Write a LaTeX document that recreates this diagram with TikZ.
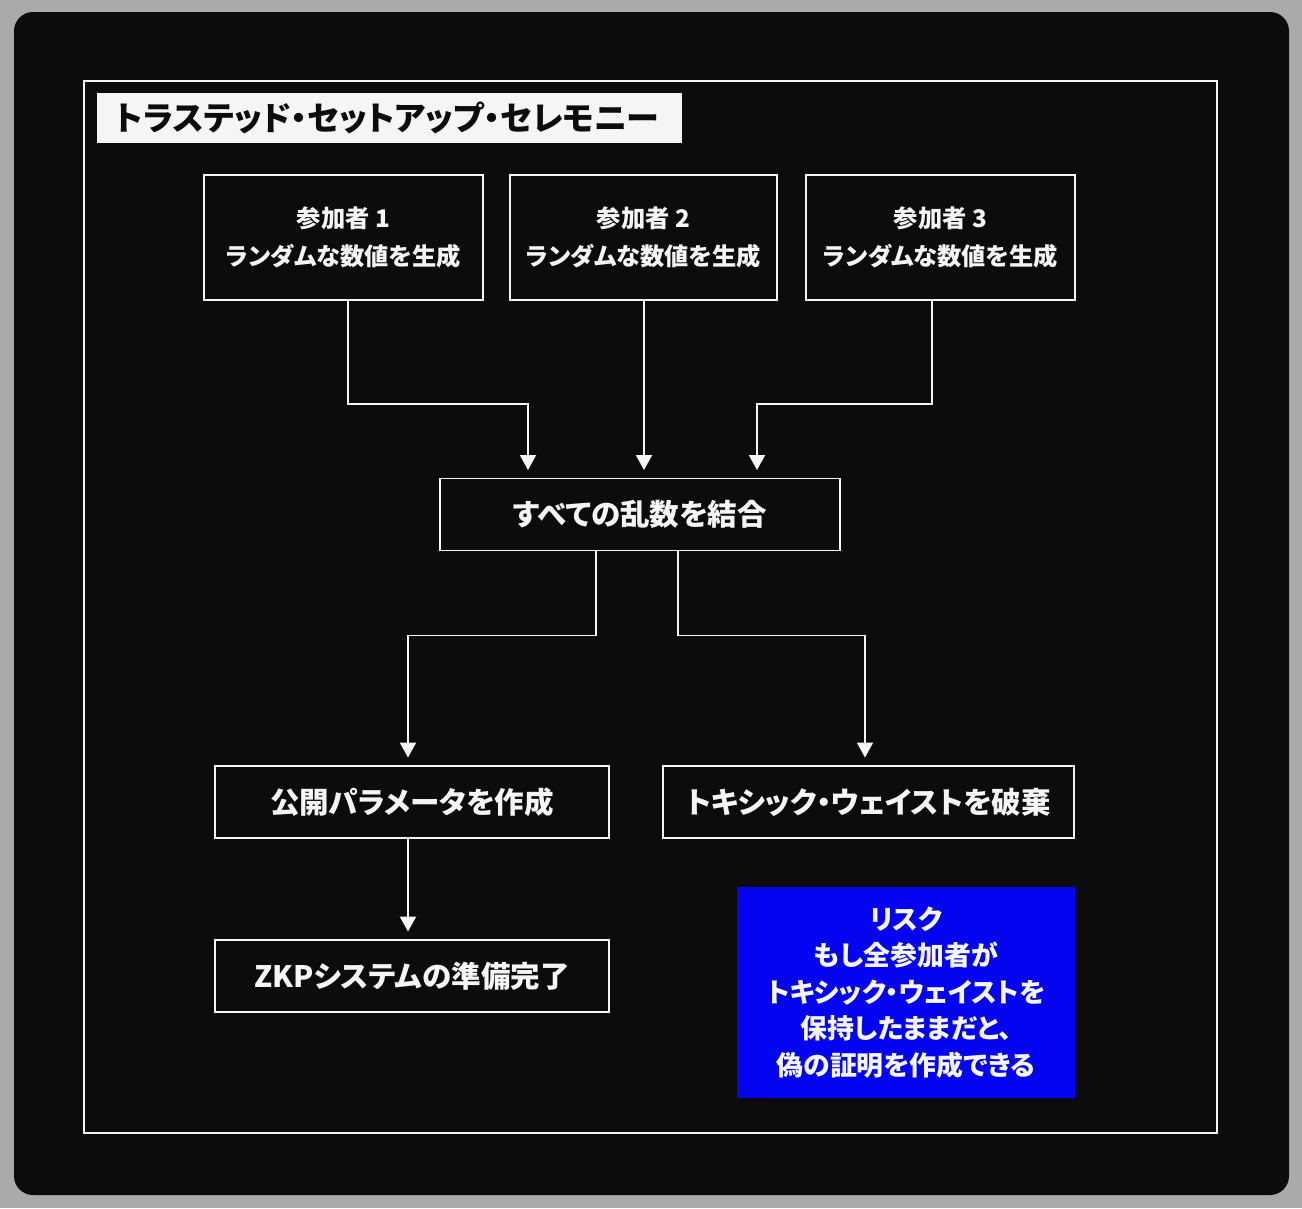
\documentclass[tikz,border=0pt]{standalone}
\usepackage{fontspec}
\setmainfont{Noto Sans CJK JP}[RawFeature=+palt]
\usepackage{tikz}
\usetikzlibrary{arrows.meta, positioning, calc}
\definecolor{cPage}{RGB}{170,170,170}
\definecolor{cPanel}{RGB}{12,12,12}
\definecolor{cLine}{RGB}{245,245,245}
\definecolor{cRisk}{RGB}{4,4,240}
\tikzset{
  %% process boxes
  pbox/.style={rectangle, draw=cLine, line width=1.1pt, text=cLine,
               font=\bfseries\fontsize{16.8}{20}\selectfont, align=center,
               inner sep=0pt, minimum height=1.44cm},
  partbox/.style={pbox, minimum height=2.5cm,
                  font=\bfseries\fontsize{13.8}{21.5}\selectfont},
  %% title tag
  tagbox/.style={rectangle, fill=cLine, text=cPanel, anchor=west,
                 font=\bfseries\fontsize{18.8}{20}\selectfont,
                 minimum width=11.7cm, minimum height=1.0cm,
                 inner xsep=0.36cm, text width=10.98cm, align=left},
  %% risk note
  riskbox/.style={rectangle, fill=cRisk, text=cLine, align=center,
                  font=\bfseries\fontsize{15.3}{20.7}\selectfont,
                  minimum width=6.76cm, minimum height=4.22cm, inner sep=0pt},
  %% edges
  arr/.style={draw=cLine, line width=1.1pt,
              -{Triangle[width=3.2mm, length=3mm]}, shorten >=0.15cm},
}
\begin{document}
\begin{tikzpicture}

%% =============================================================
%%  BACKGROUND + FRAME
%% =============================================================
\fill[cPage] (0, 0) rectangle (26.04, -24.16);
\useasboundingbox (0, 0) rectangle (26.04, -24.16);
\fill[cPanel, rounded corners=0.38cm] (0.28, -0.24) rectangle (25.78, -23.9);
\draw[cLine, line width=1.1pt] (1.68, -1.62) rectangle (24.34, -22.66);

%% -- title --
\node[tagbox] (Title) at (1.94, -2.36) {トラステッド・セットアップ・セレモニー};

%% --- participants ---
\node[partbox, minimum width=5.58cm] (P1) at ( 6.87, -4.75) {参加者 1\\ランダムな数値を生成};
\node[partbox, minimum width=5.34cm] (P2) at (12.87, -4.75) {参加者 2\\ランダムな数値を生成};
\node[partbox, minimum width=5.38cm] (P3) at (18.81, -4.75) {参加者 3\\ランダムな数値を生成};

%% --- combine ---
\node[pbox, minimum width=8.0cm] (Comb) at (12.8, -10.29) {すべての乱数を結合};

%% --- outputs ---
\node[pbox, minimum width=7.88cm] (Pub) at ( 8.24, -16.04) {公開パラメータを作成};
\node[pbox, minimum width=8.22cm] (Tox) at (17.37, -16.04) {トキシック・ウェイストを破棄};
\node[pbox, minimum width=7.88cm] (Zkp) at ( 8.24, -19.52) {ZKPシステムの準備完了};

%% --- risk note ---
\node[riskbox] (Risk) at (18.12, -19.85)
  {リスク\\もし全参加者が\\トキシック・ウェイストを\\保持したままだと、\\偽の証明を作成できる};

%% -- arrows into combine --
\draw[arr] ([xshift=0.09cm]P1.south) -- ++(0,-2.06) -| ([xshift=-2.24cm]Comb.north);
\draw[arr] ([xshift=0.01cm]P2.south) -- ([xshift=0.08cm]Comb.north);
\draw[arr] ([xshift=-0.17cm]P3.south) -- ++(0,-2.06) -| ([xshift=2.34cm]Comb.north);

%% -- arrows out of combine --
\draw[arr] ([xshift=-0.88cm]Comb.south) -- ++(0,-1.68) -| ([xshift=-0.08cm]Pub.north);
\draw[arr] ([xshift=0.76cm]Comb.south) -- ++(0,-1.68) -| ([xshift=-0.07cm]Tox.north);
\draw[arr] ([xshift=-0.08cm]Pub.south) -- ([xshift=-0.08cm]Zkp.north);

\end{tikzpicture}
\end{document}
